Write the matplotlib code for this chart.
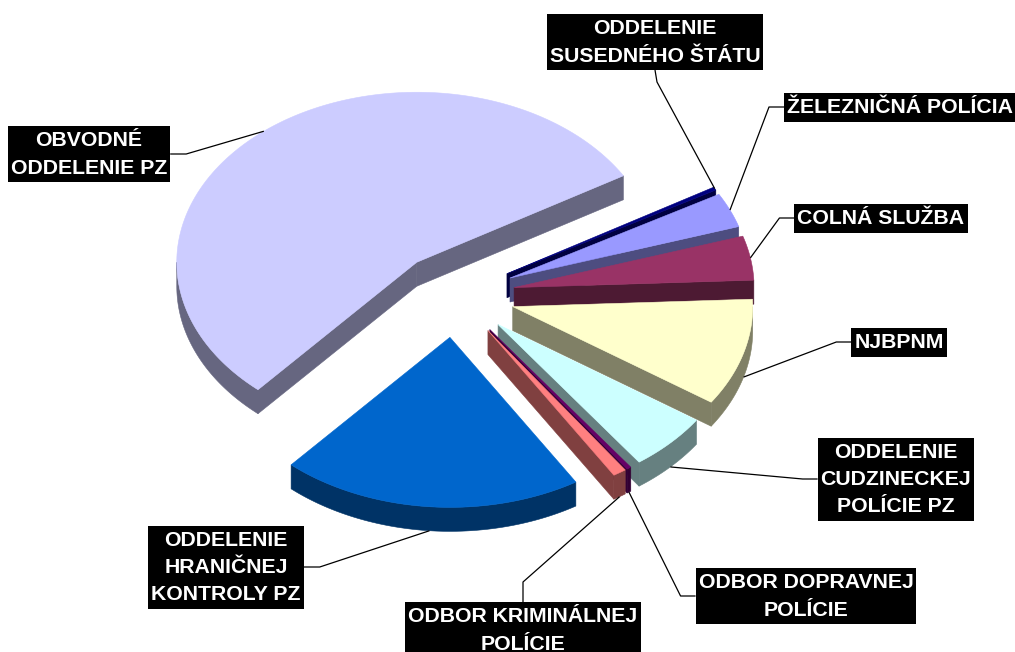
import numpy as np
import matplotlib
matplotlib.use("Agg")
import matplotlib.pyplot as plt
from matplotlib.patches import Polygon, Rectangle
from matplotlib.colors import to_rgb

# ---------------- data ----------------
categories = ['ŽELEZNIČNÁ POLÍCIA', 'COLNÁ SLUŽBA', 'NJBPNM',
              'ODDELENIE\nCUDZINECKEJ\nPOLÍCIE PZ', 'ODBOR DOPRAVNEJ\nPOLÍCIE',
              'ODBOR KRIMINÁLNEJ\nPOLÍCIE', 'ODDELENIE\nHRANIČNEJ\nKONTROLY PZ',
              'OBVODNÉ\nODDELENIE PZ', 'ODDELENIE\nSUSEDNÉHO ŠTÁTU']
values = [33, 42, 102, 55, 3, 9, 203, 550, 3]
colors = ['#9999FF', '#993366', '#FFFFCC', '#CCFFFF', '#660066',
          '#FF8080', '#0066CC', '#CCCCFF', '#000080']

# ---------------- layout / style ----------------
FIRST_ANGLE = 60.5          # degrees clockwise from 12 o'clock
CENTER = (455.0, 295.0)     # top-face centre of the unexploded pie (px)
RX, RY = 240.0, 170.0       # ellipse radii
DEPTH = 24.0
EXPLODE = 0.25
FONT = dict(family=['Liberation Sans', 'DejaVu Sans'], weight='bold', size=15.3)
LINE_PITCH = 27.0

# label box centres and leader attachment side
label_pos = [(900, 107, 'left'), (881, 218, 'left'), (899, 342, 'left'),
             (896, 479, 'left'), (806, 596, 'left'), (523, 630, 'top'),
             (226, 567, 'right'), (89, 154, 'right'), (655, 42, 'bottom')]

fig = plt.figure(figsize=(10.15, 6.52), dpi=100)
ax = fig.add_axes([0, 0, 1, 1])
ax.set_xlim(0, 1015)
ax.set_ylim(652, 0)
ax.axis('off')


def pt(theta, r, z, c):
    t = np.radians(theta)
    return (c[0] + r * RX * np.sin(t), c[1] - r * RY * np.cos(t) + z * DEPTH)


def shade(col, f=0.5):
    return tuple(v * f for v in to_rgb(col))


total = float(sum(values))
starts, ends = [], []
acc = FIRST_ANGLE
for v in values:
    starts.append(acc)
    acc += 360.0 * v / total
    ends.append(acc)

slices = []
for i in range(len(values)):
    ts, te = starts[i], ends[i]
    m = 0.5 * (ts + te)
    tm = np.radians(m)
    c = (CENTER[0] + EXPLODE * RX * np.sin(tm), CENTER[1] - EXPLODE * RY * np.cos(tm))
    key = c[1] - 0.5 * RY * np.cos(tm)
    slices.append((key, i, ts, te, m, c))

for key, i, ts, te, m, c in sorted(slices):
    top = colors[i]
    side = shade(top, 0.5)
    # radial walls
    walls = []
    if np.sin(np.radians(ts)) < 0:
        walls.append(ts)
    if np.sin(np.radians(te)) > 0:
        walls.append(te)
    for th in walls:
        poly = [pt(0, 0, 0, c), pt(th, 1, 0, c), pt(th, 1, 1, c), pt(0, 0, 1, c)]
        ax.add_patch(Polygon(poly, closed=True, fc=side, ec=side, lw=0.4))
    # outer wall (front half only)
    for k in range(-1, 3):
        lo = max(ts, 90 + 360 * k)
        hi = min(te, 270 + 360 * k)
        if lo < hi:
            th = np.linspace(lo, hi, max(3, int((hi - lo) * 2)))
            upper = [pt(t, 1, 0, c) for t in th]
            lower = [pt(t, 1, 1, c) for t in th[::-1]]
            ax.add_patch(Polygon(upper + lower, closed=True, fc=side, ec=side, lw=0.4))
    # top face
    th = np.linspace(ts, te, max(3, int((te - ts) * 2)))
    poly = [pt(0, 0, 0, c)] + [pt(t, 1, 0, c) for t in th]
    ax.add_patch(Polygon(poly, closed=True, fc=top, ec=top, lw=0.4))

# ---------------- labels ----------------
renderer = fig.canvas.get_renderer()
for key, i, ts, te, m, c in slices:
    cx, cy, side_ = label_pos[i]
    lines = categories[i].split('\n')
    n = len(lines)
    H = LINE_PITCH * n + 2
    T = cy - H / 2
    wmax = 0
    for j, ln in enumerate(lines):
        t = ax.text(cx, T + 20.5 + LINE_PITCH * j, ln, ha='center', va='baseline',
                    color='white', zorder=6, **FONT)
        bb = t.get_window_extent(renderer=renderer)
        wmax = max(wmax, bb.width)
    W = wmax + 6
    ax.add_patch(Rectangle((cx - W / 2, T), W, H, fc='black', ec='none', zorder=5))

    # leader line
    z = 1 if np.cos(np.radians(m)) < 0 else 0
    ex, ey = pt(m, 1, z, c)
    if side_ == 'left':
        a = (cx - W / 2, cy); b = (a[0] - 15, cy)
    elif side_ == 'right':
        a = (cx + W / 2, cy); b = (a[0] + 16, cy)
    elif side_ == 'top':
        a = (cx, T); b = (cx, T - 20)
    else:
        a = (cx, T + H); b = (cx + 2, T + H + 12)
    ax.plot([a[0], b[0], ex], [a[1], b[1], ey], color='black', lw=0.9, zorder=4,
            solid_capstyle='butt')

fig.savefig('out.png', dpi=100)
